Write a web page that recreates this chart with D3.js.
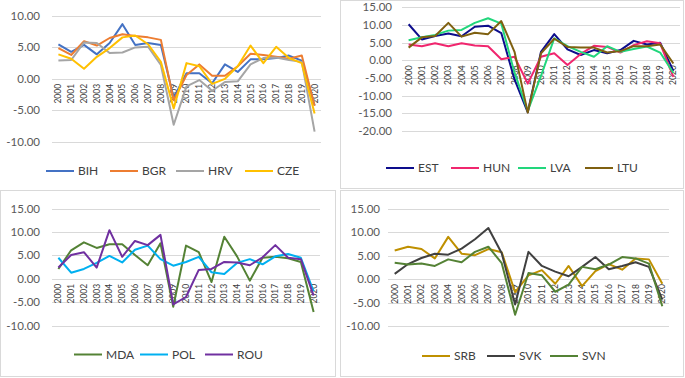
<!DOCTYPE html>
<html><head><meta charset="utf-8">
<script src="https://cdn.jsdelivr.net/npm/d3@7"></script>
<style>body{margin:0;background:#fff}svg{display:block}text{font-family:Lato,"Liberation Sans",sans-serif}</style>
</head><body><svg id="c" width="685" height="378"></svg>
<script>
const years = ["2000","2001","2002","2003","2004","2005","2006","2007","2008","2009","2010","2011","2012","2013","2014","2015","2016","2017","2018","2019","2020"];

const BIH = [5.5,4.3,5.4,3.9,5.7,8.7,5.4,5.7,5.4,-3.0,0.9,0.9,-0.7,2.3,1.1,3.1,3.1,3.3,3.7,2.9,-4.2];
const BGR = [4.9,3.8,6.0,5.3,6.5,7.1,6.8,6.6,6.2,-3.4,0.6,2.3,0.5,0.5,2.0,4.0,3.8,3.5,3.2,3.7,-4.3];
const HRV = [2.9,3.0,5.8,5.7,4.1,4.2,5.0,5.1,2.2,-7.3,-1.2,-0.2,-1.9,-0.5,-0.4,2.3,3.3,3.4,3.0,2.7,-8.4];
const CZE = [3.9,3.2,1.6,3.5,4.9,6.6,6.9,5.5,2.7,-4.7,2.5,2.0,-0.8,0.0,2.0,5.3,2.5,5.1,3.3,2.5,-5.5];

const EST = [10.2,5.9,6.9,7.6,6.8,9.5,9.8,7.7,-5.4,-14.7,2.4,7.4,3.1,1.5,2.9,2.0,2.9,5.5,4.5,5.0,-3.0];
const HUN = [4.5,4.0,4.8,4.0,4.8,4.2,4.0,0.3,1.0,-6.6,1.0,2.0,-1.3,1.8,4.1,3.8,2.2,4.3,5.4,4.8,-4.7];
const LVA = [5.7,6.5,7.2,8.4,8.6,10.6,11.9,10.4,-3.5,-14.3,-4.4,6.2,4.0,2.4,1.0,4.0,2.4,3.2,3.9,2.2,-3.6];
const LTU = [3.6,6.5,6.9,10.6,6.7,7.8,7.4,11.1,2.4,-14.8,2.0,6.1,3.8,3.6,3.6,2.2,2.6,4.0,4.0,4.5,-0.9];

const MDA = [2.1,6.1,7.8,6.6,7.4,7.4,5.1,2.9,7.6,-6.0,7.1,5.7,-0.7,9.0,4.8,-0.4,4.5,4.7,4.4,3.6,-7.1];
const POL = [4.5,1.3,2.1,3.4,4.9,3.5,6.2,7.1,4.2,2.8,3.6,4.7,1.4,1.0,3.4,4.2,3.1,4.8,5.3,4.5,-2.7];
const ROU = [2.4,5.1,5.7,2.4,10.4,4.7,8.1,7.2,9.4,-5.5,-3.9,1.9,2.1,3.6,3.5,2.9,4.6,7.2,4.5,4.2,-3.6];

const SRB = [6.1,6.9,6.4,4.4,9.0,5.4,5.1,6.4,5.7,-2.8,0.8,1.9,-1.0,2.8,-1.5,1.7,3.2,2.0,4.4,4.2,-1.0];
const SVK = [1.1,3.2,4.5,5.4,5.2,6.5,8.5,10.9,5.5,-5.4,5.8,2.8,1.6,0.6,2.6,4.7,2.1,2.8,3.6,2.6,-4.4];
const SVN = [3.5,3.1,3.3,2.8,4.2,3.6,5.8,6.9,3.4,-7.6,1.3,0.8,-2.7,-1.2,2.6,2.1,3.1,4.7,4.4,3.3,-5.8];

const ticks1 = [10,5,0,-5,-10];
const ticks2 = [15,10,5,0,-5,-10,-15,-20];
const ticks3 = [15,10,5,0,-5,-10];
const ticks4 = [15,10,5,0,-5,-10];

const svg = d3.select("#c");

// panel borders
[[340.5,0.5,343,188],[0.5,190.5,335,186],[340.5,190.5,343,186]].forEach(b=>{
  svg.append("rect").attr("x",b[0]).attr("y",b[1]).attr("width",b[2]).attr("height",b[3])
    .attr("fill","none").attr("stroke","#d9d9d9").attr("stroke-width",1);
});

const panels = [
  {x0:52,x1:321,yTop:16,yBot:141.7,dom:[-10,10],ticks:ticks1,labelX:40,legendY:171,
   series:[{n:"BIH",v:BIH,c:"#4472C4"},{n:"BGR",v:BGR,c:"#ED7D31"},{n:"HRV",v:HRV,c:"#A5A5A5"},{n:"CZE",v:CZE,c:"#FFC000"}],
   legendX:[46,110,176,245]},
  {x0:402,x1:680,yTop:7.3,yBot:131,dom:[-20,15],ticks:ticks2,labelX:392,legendY:168,
   series:[{n:"EST",v:EST,c:"#0D0D8C"},{n:"HUN",v:HUN,c:"#F0266E"},{n:"LVA",v:LVA,c:"#22D67C"},{n:"LTU",v:LTU,c:"#7F6010"}],
   legendX:[386,451,518,585]},
  {x0:52,x1:320,yTop:208.7,yBot:325.5,dom:[-10,15],ticks:ticks3,labelX:40,legendY:354.5,
   series:[{n:"MDA",v:MDA,c:"#548235"},{n:"POL",v:POL,c:"#00B0F0"},{n:"ROU",v:ROU,c:"#7030A0"}],
   legendX:[74,140,205]},
  {x0:388,x1:669,yTop:208.7,yBot:326,dom:[-10,15],ticks:ticks4,labelX:380,legendY:356,
   series:[{n:"SRB",v:SRB,c:"#BF9000"},{n:"SVK",v:SVK,c:"#404040"},{n:"SVN",v:SVN,c:"#548235"}],
   legendX:[422,487,550]}
];

panels.forEach(p=>{
  const g = svg.append("g");
  const x = d3.scaleBand().domain(years).range([p.x0,p.x1]);
  const y = d3.scaleLinear().domain([p.dom[0],p.dom[1]]).range([p.yBot,p.yTop]);
  // gridlines
  g.selectAll("line.grid").data(p.ticks).join("line")
    .attr("x1",p.x0).attr("x2",p.x1).attr("y1",d=>Math.round(y(d))+0.5).attr("y2",d=>Math.round(y(d))+0.5)
    .attr("stroke","#d9d9d9").attr("stroke-width",1);
  // y labels
  g.selectAll("text.yl").data(p.ticks).join("text")
    .attr("x",p.labelX).attr("y",d=>y(d)).attr("dy","0.35em").attr("text-anchor","end")
    .attr("font-size",11.5).attr("fill","#595959").text(d=>d.toFixed(2));
  // x labels at zero line, rotated
  const y0 = y(0);
  g.selectAll("text.xl").data(years).join("text")
    .attr("transform",d=>`translate(${x(d)+x.bandwidth()/2},${y0+5}) rotate(-90)`)
    .attr("text-anchor","end").attr("dy","0.35em")
    .attr("font-size",8.5).attr("fill","#404040").text(d=>d);
  // lines
  const line = d3.line().x((d,i)=>x(years[i])+x.bandwidth()/2).y(d=>y(d));
  p.series.forEach(s=>{
    g.append("path").datum(s.v).attr("d",line).attr("fill","none")
      .attr("stroke",s.c).attr("stroke-width",2).attr("stroke-linejoin","round");
  });
  // legend
  p.series.forEach((s,i)=>{
    const lx = p.legendX[i];
    g.append("line").attr("x1",lx).attr("x2",lx+28).attr("y1",p.legendY).attr("y2",p.legendY)
      .attr("stroke",s.c).attr("stroke-width",2);
    g.append("text").attr("x",lx+32).attr("y",p.legendY).attr("dy","0.36em")
      .attr("font-size",12).attr("fill","#404040").text(s.n);
  });
});
</script></body></html>
